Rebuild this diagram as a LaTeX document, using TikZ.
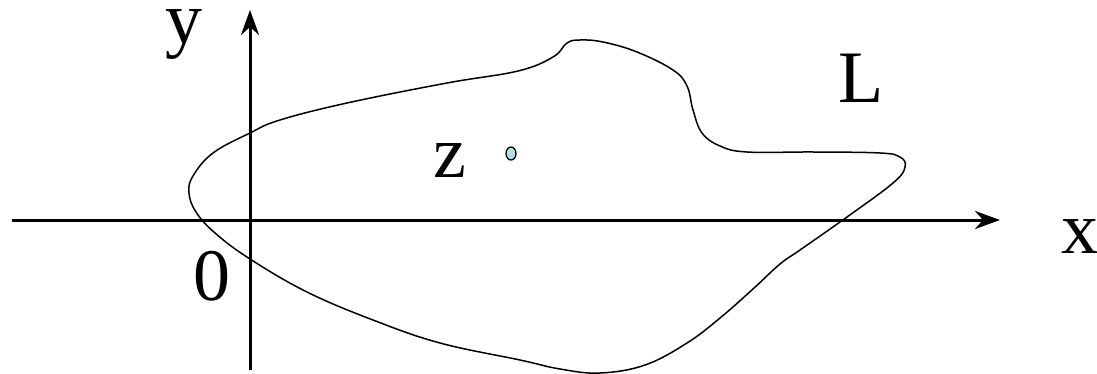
\documentclass[tikz,border=0pt]{standalone}
\usepackage{fontspec}
\setmainfont{Liberation Serif}
\usetikzlibrary{arrows.meta,shapes.geometric}
\definecolor{dotfill}{HTML}{B4DDE3}
\tikzset{
  axis/.style={line width=3pt,-{Stealth[length=25pt,width=18pt,inset=8pt]}},
  contour/.style={line width=1.5pt},
  lbl/.style={inner sep=0pt,anchor=base west,font=\fontsize{74}{74}\selectfont},
  point/.style={draw,line width=1.3pt,fill=dotfill,ellipse,minimum width=10pt,minimum height=13pt,inner sep=0pt},
}
\begin{document}
\begin{tikzpicture}[x=1pt,y=-1pt]
\useasboundingbox (0,0) rectangle (1097,374);
\coordinate (xs) at (12,220);
\coordinate (xe) at (1000,220);
\coordinate (ys) at (250,370);
\coordinate (ye) at (250,10);
\draw[axis] (xs) -- (xe);
\draw[axis] (ys) -- (ye);
\draw[contour] plot[smooth cycle, tension=0.65] coordinates {
(189,193) (193,176) (213,153) (250,133) (280,120) (347,103) (447,83) (518,71)
(553,57) (567,43) (580,40) (603,42) (637,52) (673,70) (687,86)
(693,110) (702,133) (720,146) (747,152) (813,152) (880,153) (900,157)
(905,167) (893,183) (847,217) (800,250) (780,264) (753,289) (720,318)
(687,343) (645,365) (600,373) (560,369) (520,360) (440,343)
(373,320) (307,292) (250,259) (215,233) (196,212)};
\node[point] (dot) at (511,153.5) {};
\node[lbl] (ylab) at (165,44) {y};
\node[lbl] (Llab) at (838,103) {L};
\node[lbl] (zlab) at (433,178) {z};
\node[lbl] (olab) at (193,300) {0};
\node[lbl] (xlab) at (1061,253) {x};
\end{tikzpicture}
\end{document}
